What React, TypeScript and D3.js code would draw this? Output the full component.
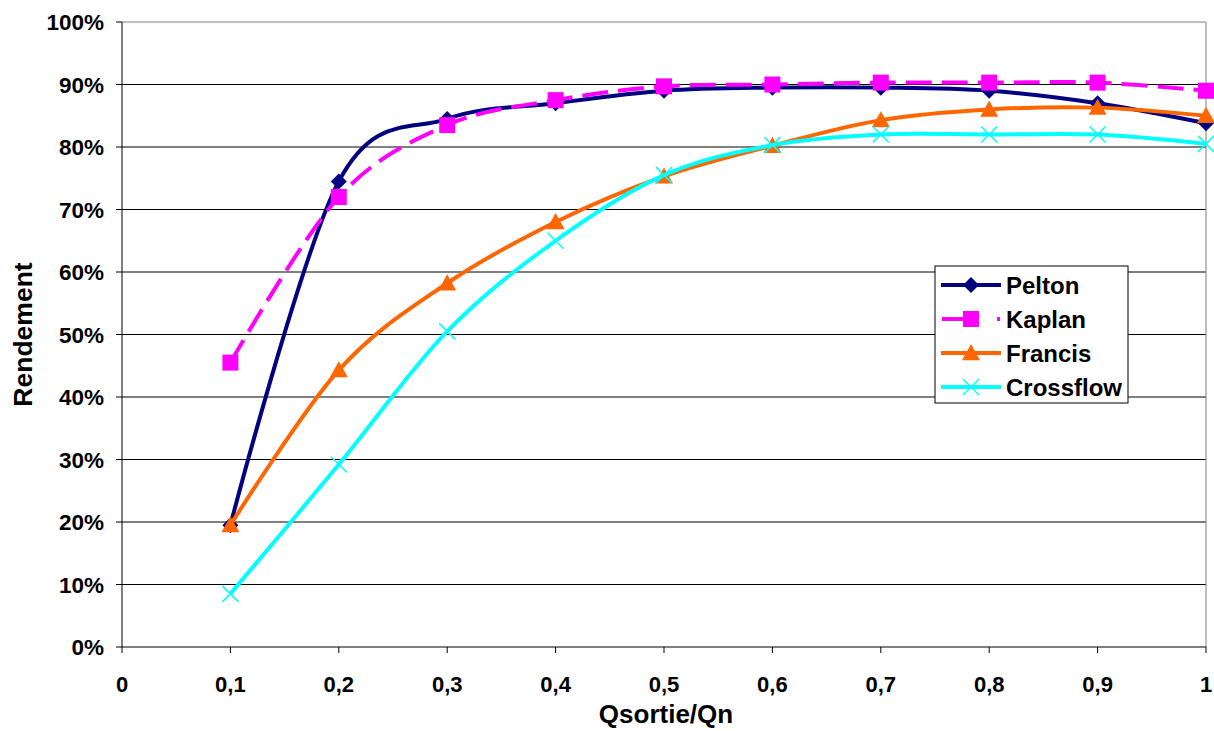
import React from "react";
import * as d3 from "d3";

const xValues = [0.1, 0.2, 0.3, 0.4, 0.5, 0.6, 0.7, 0.8, 0.9, 1.0];
const pelton = [0.195, 0.745, 0.845, 0.87, 0.89, 0.895, 0.895, 0.89, 0.87, 0.838];
const kaplan = [0.455, 0.72, 0.835, 0.875, 0.897, 0.9, 0.903, 0.903, 0.903, 0.89];
const francis = [0.195, 0.443, 0.582, 0.68, 0.753, 0.802, 0.843, 0.86, 0.863, 0.85];
const crossflow = [0.085, 0.292, 0.505, 0.65, 0.755, 0.803, 0.82, 0.82, 0.82, 0.805];
const xTicks = [0, 0.1, 0.2, 0.3, 0.4, 0.5, 0.6, 0.7, 0.8, 0.9, 1];
const yTicks = [0, 0.1, 0.2, 0.3, 0.4, 0.5, 0.6, 0.7, 0.8, 0.9, 1];
const seriesNames = ["Pelton", "Kaplan", "Francis", "Crossflow"];

const W = 1214, H = 731;
const left = 122, right = 1206, top = 22, bottom = 647;
const FONT = "'Liberation Sans', Arial, sans-serif";

const series = [
  { name: seriesNames[0], values: pelton, color: "#000080", marker: "diamond", dash: "" },
  { name: seriesNames[1], values: kaplan, color: "#FF00FF", marker: "square", dash: "26,10" },
  { name: seriesNames[2], values: francis, color: "#FF6600", marker: "triangle", dash: "" },
  { name: seriesNames[3], values: crossflow, color: "#00FFFF", marker: "x", dash: "" },
];

function Marker({ type, x, y, color }: { type: string; x: number; y: number; color: string }) {
  if (type === "diamond") {
    const s = 8;
    return <path d={`M${x},${y - s}L${x + s},${y}L${x},${y + s}L${x - s},${y}Z`} fill={color} />;
  }
  if (type === "square") {
    const s = 8;
    return <rect x={x - s} y={y - s} width={2 * s} height={2 * s} fill={color} />;
  }
  if (type === "triangle") {
    const s = 9;
    return <path d={`M${x},${y - s}L${x + s},${y + s * 0.8}L${x - s},${y + s * 0.8}Z`} fill={color} />;
  }
  const s = 8;
  return (
    <path d={`M${x - s},${y - s}L${x + s},${y + s}M${x - s},${y + s}L${x + s},${y - s}`} stroke={color} strokeWidth={1.5} fill="none" />
  );
}

export default function App() {
  const x = d3.scaleLinear().domain([0, 1]).range([left, right]);
  const y = d3.scaleLinear().domain([0, 1]).range([bottom, top]);
  const line = d3
    .line<number>()
    .x((_, i) => x(xValues[i]))
    .y((d) => y(d))
    .curve(d3.curveCatmullRom.alpha(0));
  const fmt = (v: number) => String(v).replace(".", ",");

  const legX = 935, legY = 266, legW = 193, legH = 137;

  return (
    <svg width={W} height={H} style={{ position: "absolute", left: 0, top: 0 }}>
      <rect width={W} height={H} fill="#fff" />
      {yTicks.map((t) => (
        <g key={"y" + t}>
          {t > 0 && (
            <line x1={left} x2={right} y1={y(t)} y2={y(t)} stroke={t === 1 ? "#808080" : "#000"} strokeWidth={1} />
          )}
          <line x1={left - 6} x2={left} y1={y(t)} y2={y(t)} stroke="#000" />
          <text x={104} y={y(t)} dy="0.36em" textAnchor="end" fontFamily={FONT} fontWeight="bold" fontSize={22.5}>
            {Math.round(t * 100) + "%"}
          </text>
        </g>
      ))}
      <line x1={right} x2={right} y1={top} y2={bottom} stroke="#808080" />
      <line x1={left} x2={left} y1={top} y2={bottom} stroke="#000" />
      <line x1={left} x2={right} y1={bottom} y2={bottom} stroke="#000" />
      {xTicks.map((t) => (
        <g key={"x" + t}>
          <line x1={x(t)} x2={x(t)} y1={bottom} y2={bottom + 6} stroke="#000" />
          <text x={x(t)} y={692} textAnchor="middle" fontFamily={FONT} fontWeight="bold" fontSize={22}>
            {fmt(t)}
          </text>
        </g>
      ))}
      <text x={(left + right) / 2 + 2} y={723} textAnchor="middle" fontFamily={FONT} fontWeight="bold" fontSize={26}>
        Qsortie/Qn
      </text>
      <text
        transform={`translate(32,${(top + bottom) / 2}) rotate(-90)`}
        textAnchor="middle"
        fontFamily={FONT}
        fontWeight="bold"
        fontSize={26.5}
      >
        Rendement
      </text>
      {series.map((s) => (
        <g key={s.name}>
          <path d={line(s.values) || ""} fill="none" stroke={s.color} strokeWidth={4} strokeDasharray={s.dash || undefined} />
          {s.values.map((v, i) => (
            <Marker key={i} type={s.marker} x={x(xValues[i])} y={y(v)} color={s.color} />
          ))}
        </g>
      ))}
      <rect x={legX} y={legY} width={legW} height={legH} fill="#fff" stroke="#000" strokeWidth={1} />
      {series.map((s, i) => {
        const ly = legY + 19 + i * 34;
        return (
          <g key={"l" + s.name}>
            {s.marker === "square" ? (
              <>
                <line x1={942} x2={965} y1={ly} y2={ly} stroke={s.color} strokeWidth={4} />
                <line x1={997} x2={1000} y1={ly} y2={ly} stroke={s.color} strokeWidth={4} />
              </>
            ) : (
              <line x1={941} x2={1001} y1={ly} y2={ly} stroke={s.color} strokeWidth={4} />
            )}
            <Marker type={s.marker} x={971} y={ly} color={s.color} />
            <text x={1006} y={ly} dy="0.36em" fontFamily={FONT} fontWeight="bold" fontSize={24}>
              {s.name}
            </text>
          </g>
        );
      })}
    </svg>
  );
}
